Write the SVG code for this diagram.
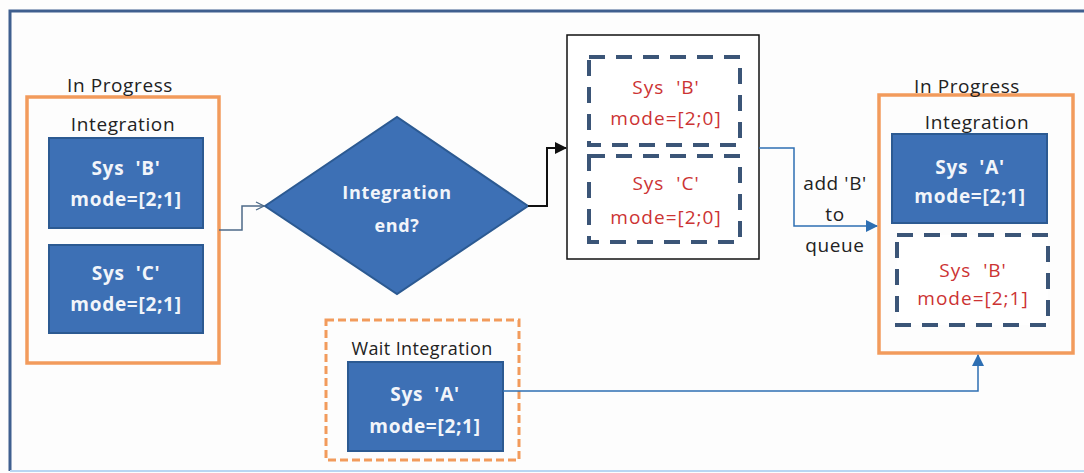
<svg xmlns="http://www.w3.org/2000/svg" width="1084" height="473" viewBox="0 0 1084 473" xml:space="preserve">
  <style>
    .frame { fill: none; stroke: #3f5f8f; stroke-width: 3; }
    .orange { fill: none; stroke: #f29b5c; stroke-width: 3.5; }
    .orange-dash { fill: none; stroke: #f29b5c; stroke-width: 3; stroke-dasharray: 8 4; }
    .sys { fill: #3d70b5; stroke: #2c5a92; stroke-width: 2; }
    .dash { fill: #ffffff; stroke: #3b5577; stroke-width: 4; stroke-dasharray: 16 11; }
    .diamond { fill: #3d70b5; stroke: #2c5a92; stroke-width: 2; }
    text { white-space: pre; }
    .lbl { font-family: "Open Sans", "Liberation Sans", sans-serif; font-size: 19px; fill: #222; text-anchor: middle; letter-spacing: 0.6px; }
    .wt { font-family: "Open Sans", "Liberation Sans", sans-serif; font-size: 19px; font-weight: bold; fill: #f2f5fa; text-anchor: middle; letter-spacing: 0.7px; }
    .dt { font-family: "Open Sans", "Liberation Sans", sans-serif; font-size: 18px; font-weight: bold; fill: #f2f5fa; text-anchor: middle; letter-spacing: 0.7px; }
    .rt { font-family: "Open Sans", "Liberation Sans", sans-serif; font-size: 19px; fill: #cc3333; text-anchor: middle; letter-spacing: 1px; }
    .c-grey { fill: none; stroke: #4d6a88; stroke-width: 1.5; }
    .c-black { fill: none; stroke: #111; stroke-width: 2; }
    .c-blue { fill: none; stroke: #2e6fb3; stroke-width: 1.5; }
  </style>
  <defs>
    <marker id="open" markerUnits="userSpaceOnUse" markerWidth="12" markerHeight="12" refX="9" refY="5" orient="auto">
      <path d="M1,1 L9,5 L1,9" fill="none" stroke="#4d6a88" stroke-width="1.3"/>
    </marker>
    <marker id="black" markerUnits="userSpaceOnUse" markerWidth="14" markerHeight="14" refX="11" refY="6" orient="auto">
      <path d="M0,0 L12,6 L0,12 Z" fill="#111"/>
    </marker>
    <marker id="blue" markerUnits="userSpaceOnUse" markerWidth="14" markerHeight="14" refX="11" refY="6" orient="auto">
      <path d="M0,0 L12,6 L0,12 Z" fill="#2e6fb3"/>
    </marker>
  </defs>

  <rect x="0" y="0" width="1084" height="473" fill="#fdfdfd"/>
  <path class="frame" d="M10,471 V11 H1084"/>
  <line x1="10" y1="471" x2="1084" y2="471" stroke="#b9d6f2" stroke-width="2"/>

  <g id="left-in-progress">
    <rect class="orange" x="27" y="97" width="192" height="266"/>
    <text class="lbl" x="120" y="92">In Progress</text>
    <text class="lbl" x="123" y="131">Integration</text>
  </g>
  <g id="sys-b-left">
    <rect class="sys" x="49" y="138" width="154" height="90"/>
    <text class="wt" x="126" y="175">Sys  'B'</text>
    <text class="wt" x="126" y="206">mode=[2;1]</text>
  </g>
  <g id="sys-c-left">
    <rect class="sys" x="49" y="245" width="154" height="88"/>
    <text class="wt" x="126" y="280">Sys  'C'</text>
    <text class="wt" x="126" y="311">mode=[2;1]</text>
  </g>

  <g id="decision">
    <polygon class="diamond" points="265,206 397,117 528,206 397,294"/>
    <text class="dt" x="397" y="199">Integration</text>
    <text class="dt" x="397" y="232">end?</text>
  </g>

  <g id="ended-box">
    <rect x="567" y="35" width="192" height="224" fill="#ffffff" stroke="#111" stroke-width="1.5"/>
  </g>
  <g id="sys-b-ended">
    <rect class="dash" x="589" y="57" width="151" height="88"/>
    <text class="rt" x="666" y="94">Sys  'B'</text>
    <text class="rt" x="666" y="125">mode=[2;0]</text>
  </g>
  <g id="sys-c-ended">
    <rect class="dash" x="589" y="156" width="151" height="86"/>
    <text class="rt" x="666" y="190">Sys  'C'</text>
    <text class="rt" x="666" y="224">mode=[2;0]</text>
  </g>

  <g id="right-in-progress">
    <rect class="orange" x="879" y="95" width="194" height="258"/>
    <text class="lbl" x="967" y="93">In Progress</text>
    <text class="lbl" x="977" y="129">Integration</text>
  </g>
  <g id="sys-a-right">
    <rect class="sys" x="892" y="134" width="155" height="89"/>
    <text class="wt" x="970" y="174">Sys  'A'</text>
    <text class="wt" x="970" y="203">mode=[2;1]</text>
  </g>
  <g id="sys-b-right">
    <rect class="dash" x="897" y="235" width="151" height="90"/>
    <text class="rt" x="973" y="277">Sys  'B'</text>
    <text class="rt" x="973" y="305">mode=[2;1]</text>
  </g>

  <g id="wait-integration">
    <rect class="orange-dash" x="326" y="320" width="193" height="140"/>
    <text class="lbl" x="422" y="355" style="font-size:18px;letter-spacing:0.4px">Wait Integration</text>
  </g>
  <g id="sys-a-wait">
    <rect class="sys" x="348" y="362" width="155" height="89"/>
    <text class="wt" x="425" y="401">Sys  'A'</text>
    <text class="wt" x="425" y="433">mode=[2;1]</text>
  </g>

  <g id="connectors">
    <path class="c-grey" d="M219,230 H242 V206 H264" marker-end="url(#open)"/>
    <path class="c-black" d="M528,206 H547 V148 H566" marker-end="url(#black)"/>
    <path class="c-blue" d="M759,148 H794 V226 H877" marker-end="url(#blue)"/>
    <path class="c-blue" d="M503,391 H978 V355" marker-end="url(#blue)"/>
    <text class="lbl" x="835" y="190">add 'B'</text>
    <text class="lbl" x="835" y="221">to</text>
    <text class="lbl" x="835" y="252">queue</text>
  </g>
</svg>
